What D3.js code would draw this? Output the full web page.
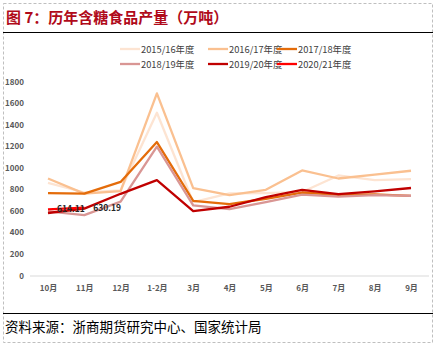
<!DOCTYPE html>
<html><head><meta charset="utf-8">
<script src="https://cdn.jsdelivr.net/npm/d3@7"></script>
<style>body{margin:0;background:#fff}svg{display:block}</style>
</head><body>
<svg id="c" width="436" height="346"></svg>
<script>
const categories = ["10月","11月","12月","1-2月","3月","4月","5月","6月","7月","8月","9月"];
const seriesNames = ["2015/16年度","2016/17年度","2017/18年度","2018/19年度","2019/20年度","2020/21年度"];
const s1516 = [860, 770, 790, 1510, 680, 762, 765, 775, 928, 885, 895];
const s1617 = [900, 760, 782, 1690, 811, 745, 795, 975, 900, 935, 972];
const s1718 = [765, 760, 868, 1238, 692, 662, 712, 770, 748, 752, 738];
const s1819 = [595, 560, 685, 1195, 650, 615, 680, 750, 732, 745, 740];
const s1920 = [580, 620, 758, 885, 598, 638, 728, 795, 755, 780, 812];
const s2021 = [614.11, 630.19];
const yTicks = [0,200,400,600,800,1000,1200,1400,1600,1800];
const colors = ["#fde4d2","#fac090","#e46c0a","#d99694","#c00000","#ff0000"];
const allSeries = [s1516,s1617,s1718,s1819,s1920,s2021];

const svg = d3.select("#c");
const font = "'Microsoft YaHei','Noto Sans CJK SC',sans-serif";

// frame
svg.append("rect").attr("x",3.5).attr("y",3.5).attr("width",429).attr("height",339)
  .attr("fill","none").attr("stroke","#bfbfbf").attr("stroke-dasharray","3,2");
svg.append("text").attr("x",6).attr("y",23).text("图 7：历年含糖食品产量（万吨）")
  .attr("font-family",font).attr("font-weight","bold").attr("font-size",15).attr("fill","#b00a1a");
svg.append("line").attr("x1",3).attr("x2",433).attr("y1",32.5).attr("y2",32.5).attr("stroke","#000").attr("stroke-width",1.2);
svg.append("line").attr("x1",3).attr("x2",433).attr("y1",313.5).attr("y2",313.5).attr("stroke","#000").attr("stroke-width",1.2);
svg.append("text").attr("x",5).attr("y",332).text("资料来源：浙商期货研究中心、国家统计局")
  .attr("font-family","'Noto Sans CJK SC',sans-serif").attr("font-size",13.5).attr("fill","#000");

const x = d3.scalePoint().domain(categories).range([48, 411]);
const y = d3.scaleLinear().domain([0,1800]).range([275.5, 81.5]);

// y axis labels
const ya = svg.append("g").attr("transform","translate(24,0)")
  .call(d3.axisLeft(y).tickValues(yTicks).tickFormat(d3.format("d")).tickSize(0).tickPadding(0));
ya.select(".domain").remove();
ya.selectAll("text").attr("font-family",font).attr("font-size",8).attr("font-weight","bold").attr("fill","#595959");

// x axis
const xa = svg.append("g").attr("transform","translate(0,276)")
  .call(d3.axisBottom(x).tickSize(0).tickPadding(9));
xa.select(".domain").attr("d","M30,0H429").attr("stroke","#d9d9d9").attr("stroke-width",1);
xa.selectAll("text").attr("font-family",font).attr("font-size",8).attr("font-weight","bold").attr("fill","#595959");

const line = d3.line().x((d,i)=>x(categories[i])).y(d=>y(d));
allSeries.forEach((s,k)=>{
  svg.append("path").datum(s).attr("d",line).attr("fill","none")
    .attr("stroke",colors[k]).attr("stroke-width",2.3).attr("stroke-linejoin","round");
});

// data labels for 2020/21
svg.append("g").selectAll("text").data(s2021).join("text")
  .attr("x",(d,i)=>x(categories[i])+9).attr("y",(d)=>y(d)+3)
  .text(d=>d.toFixed(2))
  .attr("font-family",font).attr("font-size",8.5).attr("font-weight","bold").attr("fill","#262626");

// legend
const lx = [120, 208, 277], ly = [49, 64];
const lg = svg.append("g");
seriesNames.forEach((n,k)=>{
  const cx = lx[k%3], cy = ly[Math.floor(k/3)];
  lg.append("line").attr("x1",cx).attr("x2",cx+20).attr("y1",cy).attr("y2",cy)
    .attr("stroke",colors[k]).attr("stroke-width",2.3);
  lg.append("text").attr("x",cx+21).attr("y",cy+3.5).text(n)
    .attr("font-family",font).attr("font-size",9.3).attr("fill","#404040");
});
</script>
</body></html>
